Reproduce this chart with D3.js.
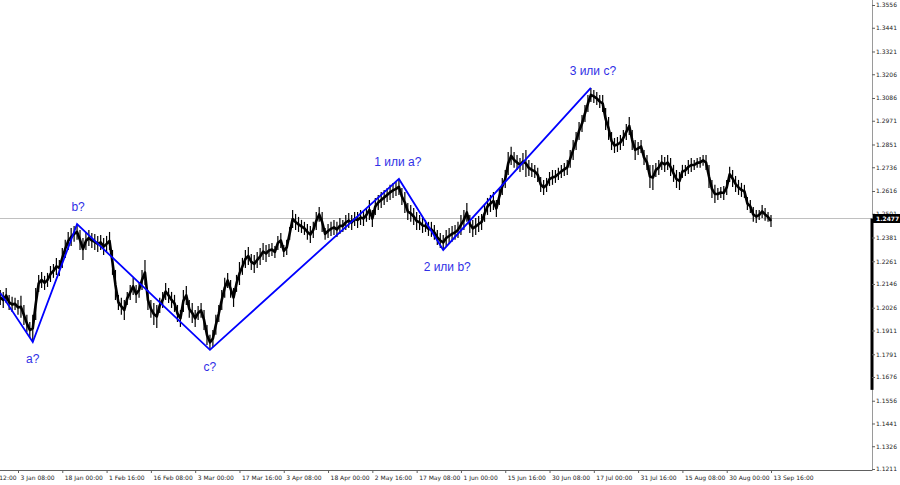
<!DOCTYPE html>
<html>
<head>
<meta charset="utf-8">
<script src="https://cdn.jsdelivr.net/npm/d3@7"></script>
<style>
  body { margin: 0; background: #fff; }
  svg { display: block; }
</style>
</head>
<body>
<div id="chart"></div>
<script>
// price bars (high / low), one bar per slot
const highs = [
  1.2116, 1.2106, 1.2126, 1.2091, 1.2081, 1.2076, 1.2065, 1.2086, 1.2040, 1.1990,
  1.1954, 1.1990, 1.2126, 1.2192, 1.2207, 1.2187, 1.2202, 1.2237, 1.2247, 1.2278,
  1.2267, 1.2328, 1.2369, 1.2409, 1.2429, 1.2439, 1.2449, 1.2419, 1.2379, 1.2409,
  1.2419, 1.2404, 1.2399, 1.2389, 1.2394, 1.2379, 1.2389, 1.2409, 1.2318, 1.2217,
  1.2091, 1.2076, 1.2065, 1.2106, 1.2141, 1.2177, 1.2141, 1.2156, 1.2217, 1.2267,
  1.2116, 1.2065, 1.2050, 1.2040, 1.2076, 1.2106, 1.2151, 1.2126, 1.2106, 1.2091,
  1.2040, 1.2015, 1.2116, 1.2136, 1.2065, 1.2050, 1.2015, 1.2035, 1.2050, 1.2015,
  1.1939, 1.1889, 1.1914, 1.1990, 1.2040, 1.2116, 1.2177, 1.2202, 1.2166, 1.2126,
  1.2192, 1.2257, 1.2278, 1.2318, 1.2333, 1.2298, 1.2293, 1.2308, 1.2328, 1.2353,
  1.2343, 1.2348, 1.2353, 1.2338, 1.2389, 1.2404, 1.2343, 1.2369, 1.2434, 1.2520,
  1.2500, 1.2485, 1.2470, 1.2460, 1.2449, 1.2439, 1.2460, 1.2510, 1.2535, 1.2510,
  1.2429, 1.2449, 1.2460, 1.2470, 1.2460, 1.2480, 1.2470, 1.2495, 1.2505, 1.2495,
  1.2510, 1.2510, 1.2520, 1.2515, 1.2530, 1.2571, 1.2520, 1.2581, 1.2596, 1.2611,
  1.2621, 1.2631, 1.2647, 1.2657, 1.2662, 1.2677, 1.2631, 1.2611, 1.2555, 1.2545,
  1.2530, 1.2510, 1.2495, 1.2480, 1.2470, 1.2460, 1.2460, 1.2444, 1.2419, 1.2404,
  1.2394, 1.2419, 1.2429, 1.2439, 1.2444, 1.2460, 1.2495, 1.2520, 1.2555, 1.2495,
  1.2470, 1.2480, 1.2490, 1.2500, 1.2545, 1.2581, 1.2596, 1.2611, 1.2571, 1.2631,
  1.2682, 1.2722, 1.2813, 1.2839, 1.2813, 1.2798, 1.2783, 1.2808, 1.2823, 1.2773,
  1.2758, 1.2748, 1.2733, 1.2687, 1.2672, 1.2682, 1.2712, 1.2722, 1.2722, 1.2733,
  1.2748, 1.2758, 1.2773, 1.2823, 1.2874, 1.2914, 1.2965, 1.3000, 1.3051, 1.3101,
  1.3137, 1.3127, 1.3116, 1.3101, 1.3101, 1.3036, 1.2990, 1.2914, 1.2884, 1.2889,
  1.2899, 1.2924, 1.2955, 1.2990, 1.2924, 1.2874, 1.2864, 1.2874, 1.2823, 1.2798,
  1.2748, 1.2748, 1.2758, 1.2773, 1.2798, 1.2788, 1.2798, 1.2783, 1.2748, 1.2722,
  1.2712, 1.2748, 1.2748, 1.2773, 1.2783, 1.2773, 1.2783, 1.2788, 1.2798, 1.2798,
  1.2748, 1.2672, 1.2647, 1.2631, 1.2636, 1.2641, 1.2672, 1.2738, 1.2722, 1.2692,
  1.2672, 1.2657, 1.2647, 1.2586, 1.2571, 1.2535, 1.2520, 1.2520, 1.2545, 1.2530,
  1.2510, 1.2495
];
const lows = [
  1.2040, 1.2025, 1.2050, 1.2015, 1.2005, 1.2015, 1.1990, 1.1975, 1.1939, 1.1904,
  1.1873, 1.1853, 1.1964, 1.2106, 1.2126, 1.2116, 1.2131, 1.2156, 1.2177, 1.2192,
  1.2187, 1.2227, 1.2278, 1.2318, 1.2338, 1.2359, 1.2369, 1.2318, 1.2267, 1.2318,
  1.2338, 1.2328, 1.2318, 1.2308, 1.2318, 1.2293, 1.2308, 1.2318, 1.2192, 1.2065,
  1.2015, 1.1990, 1.1964, 1.2040, 1.2065, 1.2091, 1.2050, 1.2076, 1.2116, 1.2141,
  1.2015, 1.1975, 1.1939, 1.1924, 1.2000, 1.2025, 1.2065, 1.2050, 1.2025, 1.2005,
  1.1954, 1.1929, 1.2005, 1.2040, 1.1975, 1.1949, 1.1929, 1.1964, 1.1975, 1.1914,
  1.1838, 1.1813, 1.1828, 1.1889, 1.1954, 1.2015, 1.2076, 1.2126, 1.2076, 1.2030,
  1.2106, 1.2141, 1.2192, 1.2227, 1.2242, 1.2217, 1.2202, 1.2227, 1.2242, 1.2267,
  1.2257, 1.2283, 1.2288, 1.2278, 1.2318, 1.2328, 1.2283, 1.2293, 1.2369, 1.2429,
  1.2419, 1.2409, 1.2404, 1.2394, 1.2369, 1.2353, 1.2379, 1.2419, 1.2460, 1.2409,
  1.2369, 1.2379, 1.2389, 1.2394, 1.2384, 1.2399, 1.2409, 1.2419, 1.2429, 1.2419,
  1.2439, 1.2429, 1.2444, 1.2439, 1.2460, 1.2470, 1.2434, 1.2495, 1.2520, 1.2530,
  1.2545, 1.2561, 1.2571, 1.2581, 1.2591, 1.2596, 1.2545, 1.2505, 1.2470, 1.2460,
  1.2444, 1.2419, 1.2419, 1.2404, 1.2409, 1.2389, 1.2384, 1.2369, 1.2343, 1.2328,
  1.2318, 1.2338, 1.2348, 1.2359, 1.2369, 1.2379, 1.2394, 1.2419, 1.2460, 1.2404,
  1.2384, 1.2394, 1.2409, 1.2419, 1.2460, 1.2495, 1.2510, 1.2520, 1.2485, 1.2545,
  1.2596, 1.2631, 1.2697, 1.2748, 1.2733, 1.2722, 1.2712, 1.2722, 1.2687, 1.2692,
  1.2687, 1.2682, 1.2662, 1.2611, 1.2596, 1.2611, 1.2641, 1.2647, 1.2657, 1.2672,
  1.2682, 1.2692, 1.2697, 1.2733, 1.2773, 1.2823, 1.2874, 1.2914, 1.2965, 1.3015,
  1.3066, 1.3061, 1.3051, 1.3036, 1.3015, 1.2924, 1.2874, 1.2823, 1.2808, 1.2813,
  1.2823, 1.2844, 1.2874, 1.2899, 1.2823, 1.2773, 1.2798, 1.2808, 1.2748, 1.2722,
  1.2631, 1.2621, 1.2687, 1.2697, 1.2722, 1.2712, 1.2722, 1.2692, 1.2662, 1.2631,
  1.2621, 1.2682, 1.2692, 1.2702, 1.2712, 1.2722, 1.2733, 1.2733, 1.2743, 1.2722,
  1.2631, 1.2581, 1.2555, 1.2571, 1.2581, 1.2571, 1.2596, 1.2662, 1.2636, 1.2611,
  1.2596, 1.2586, 1.2581, 1.2520, 1.2505, 1.2460, 1.2454, 1.2470, 1.2480, 1.2465,
  1.2460, 1.2434
];

const lastPrice = 1.2477;
const scaleBarLow = 1.1611;

const priceTicks = [1.3556, 1.3441, 1.3321, 1.3206, 1.3086, 1.2971, 1.2851, 1.2736, 1.2616,
  1.2501, 1.2381, 1.2261, 1.2146, 1.2026, 1.1911, 1.1791, 1.1676, 1.1556, 1.1441, 1.1326, 1.1211];

const timeLabels = ["19 Dec 12:00", "3 Jan 08:00", "18 Jan 00:00", "1 Feb 16:00", "16 Feb 08:00",
  "3 Mar 00:00", "17 Mar 16:00", "3 Apr 08:00", "18 Apr 00:00", "2 May 16:00", "17 May 08:00",
  "1 Jun 00:00", "15 Jun 16:00", "30 Jun 08:00", "17 Jul 00:00", "31 Jul 16:00", "15 Aug 08:00",
  "30 Aug 00:00", "13 Sep 16:00"];
const timeBars = [-9, 6, 21, 36, 51, 66, 81, 96, 111, 126, 141, 156, 171, 186, 201, 216, 231, 246, 261];

// wave marking
const waveBars = [0, 11, 26, 71, 135, 150, 200];
const wavePrices = [1.2101, 1.1853, 1.2449, 1.1813, 1.2677, 1.2318, 1.3137];
const waveNames = ["", "a?", "b?", "c?", "1 или a?", "2 или b?", "3 или c?"];
const waveSide = [0, 1, -1, 1, -1, 1, -1]; // 1 = label below, -1 = above
const waveShift = [0, 0, 1, 0, -1, 4, 2];   // small horizontal nudge of the label

const W = 900, H = 485;
const plotRight = 872, plotBottom = 470;

const svg = d3.select("#chart").append("svg")
    .attr("width", W)
    .attr("height", H);

const x = d3.scaleLinear().domain([6, 261]).range([18, 771]);
const y = d3.scaleLinear().domain([1.1211, 1.3556]).range([469, 5]);

svg.append("clipPath").attr("id", "plot")
  .append("rect").attr("x", 0).attr("y", 0).attr("width", plotRight).attr("height", plotBottom);

const plot = svg.append("g").attr("clip-path", "url(#plot)");

// bid line
plot.append("line")
    .attr("x1", 0).attr("x2", plotRight)
    .attr("y1", y(lastPrice)).attr("y2", y(lastPrice))
    .attr("stroke", "#c0c0c0")
    .attr("stroke-width", 1);

// bars
plot.selectAll(".bar")
  .data(highs)
  .enter()
  .append("line")
    .attr("class", "bar")
    .attr("x1", (d, i) => x(i))
    .attr("x2", (d, i) => x(i))
    .attr("y1", d => y(d))
    .attr("y2", (d, i) => y(lows[i]))
    .attr("stroke", "#000")
    .attr("stroke-width", 1.2);

// core line through bar middles, so the dense series reads as one band
plot.append("path")
    .attr("d", d3.line()
      .x((d, i) => x(i))
      .y((d, i) => y((d + lows[i]) / 2))(highs))
    .attr("fill", "none")
    .attr("stroke", "#000")
    .attr("stroke-width", 2.6)
    .attr("stroke-linejoin", "round");

// wave lines
const waveLine = d3.line()
    .x((d, i) => x(waveBars[i]))
    .y(d => y(d));

plot.append("path")
    .attr("d", waveLine(wavePrices))
    .attr("fill", "none")
    .attr("stroke", "#0000ff")
    .attr("stroke-width", 1.8);

plot.selectAll(".wave-label")
  .data(d3.range(1, waveNames.length))
  .enter()
  .append("text")
    .attr("class", "wave-label")
    .attr("x", k => x(waveBars[k]) + waveShift[k])
    .attr("y", k => y(wavePrices[k]) + waveSide[k] * 17)
    .attr("dy", "0.35em")
    .attr("text-anchor", "middle")
    .attr("font-family", "Liberation Sans, Arial, sans-serif")
    .attr("font-size", 12)
    .attr("fill", "#2f2fe6")
    .text(k => waveNames[k]);

// axis frame
svg.append("line")
    .attr("x1", plotRight + 0.5).attr("x2", plotRight + 0.5)
    .attr("y1", 0).attr("y2", plotBottom)
    .attr("stroke", "#9a9a9a");
svg.append("line")
    .attr("x1", 0).attr("x2", plotRight + 0.5)
    .attr("y1", plotBottom + 0.5).attr("y2", plotBottom + 0.5)
    .attr("stroke", "#606060");

// black marker on the price scale
svg.append("rect")
    .attr("x", plotRight - 1.5)
    .attr("y", y(lastPrice))
    .attr("width", 3)
    .attr("height", y(scaleBarLow) - y(lastPrice))
    .attr("fill", "#000");

// price axis
const yAxis = svg.append("g")
    .attr("transform", `translate(${plotRight},0)`)
    .call(d3.axisRight(y).tickValues(priceTicks).tickFormat(d3.format(".4f"))
      .tickSize(3).tickSizeOuter(0).tickPadding(1));
yAxis.select(".domain").remove();
yAxis.selectAll("line").attr("stroke", "#606060");
yAxis.selectAll("text")
    .attr("font-family", "DejaVu Sans, sans-serif")
    .attr("font-size", 6)
    .attr("fill", "#222");

// time axis
const xAxis = svg.append("g")
    .attr("transform", `translate(0,${plotBottom})`)
    .call(d3.axisBottom(x).tickValues(timeBars).tickFormat((d, i) => timeLabels[i])
      .tickSize(3).tickSizeOuter(0).tickPadding(3));
xAxis.select(".domain").remove();
xAxis.selectAll("line").attr("stroke", "#606060");
xAxis.selectAll("text")
    .attr("text-anchor", "start")
    .attr("dx", 2)
    .attr("font-family", "DejaVu Sans, sans-serif")
    .attr("font-size", 6)
    .attr("fill", "#222");

// last price label
svg.append("rect")
    .attr("x", plotRight + 1)
    .attr("y", y(lastPrice) - 4.5)
    .attr("width", W - plotRight - 1)
    .attr("height", 9)
    .attr("fill", "#000");
svg.append("text")
    .attr("x", plotRight + 4)
    .attr("y", y(lastPrice))
    .attr("dy", "0.35em")
    .attr("font-family", "DejaVu Sans, sans-serif")
    .attr("font-size", 6)
    .attr("font-weight", "bold")
    .attr("fill", "#fff")
    .text(d3.format(".4f")(lastPrice));
</script>
</body>
</html>
